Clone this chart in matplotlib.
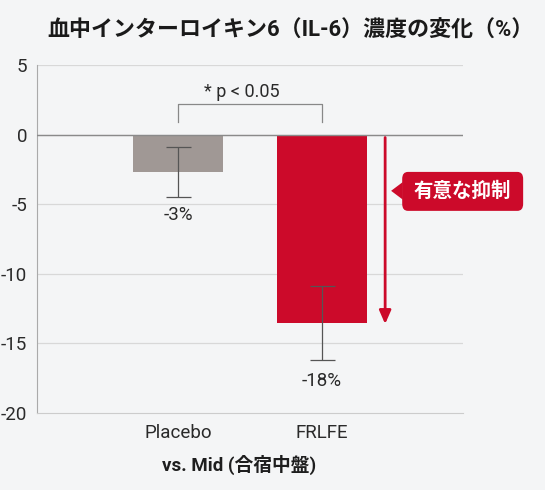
import matplotlib.pyplot as plt
from matplotlib.patches import FancyBboxPatch, Polygon

plt.rcParams['font.family'] = ['Roboto', 'Noto Sans CJK JP', 'DejaVu Sans']

# data
groups = ['Placebo', 'FRLFE']
values = [-2.7, -13.5]
err_low = [1.8, 2.7]
err_high = [1.8, 2.6]
labels = ['-3%', '-18%']
label_y = [-5.8, -17.7]
yticks = [5, 0, -5, -10, -15, -20]
title = '血中インターロイキン6（IL-6）濃度の変化（%）'
xlabel = 'vs. Mid (合宿中盤)'
sig_text = '* p < 0.05'
callout = '有意な抑制'

bg = '#f4f5f6'
red = '#cc0a2a'
gray = '#a09895'
txt = '#2a2a2a'

fig = plt.figure(figsize=(5.45, 4.9), dpi=100)
fig.patch.set_facecolor(bg)
ax = fig.add_axes([0.068, 0.157, 0.782, 0.710])
ax.set_facecolor(bg)

x = list(range(len(groups)))
ax.bar(x, values, width=0.625, color=[gray, red], zorder=2)
ax.errorbar(x, values, yerr=[err_low, err_high], fmt='none', ecolor='#555555',
            elinewidth=0.9, capsize=9, capthick=0.9, zorder=3)
for xi, lab, ly in zip(x, labels, label_y):
    ax.text(xi, ly, lab, ha='center', va='center', fontsize=13.5, color=txt)

ax.set_xlim(-0.98, 1.98)
ax.set_ylim(-20, 5)
ax.set_yticks(yticks)
ax.set_yticklabels([str(t) for t in yticks])
ax.set_xticks(x)
ax.set_xticklabels(groups)
ax.tick_params(axis='both', length=0, labelsize=13.5, labelcolor=txt)
ax.tick_params(axis='x', pad=8)
ax.tick_params(axis='y', pad=7)
for t in yticks[:-1]:
    ax.axhline(t, color='#d8d8d8', lw=0.9, zorder=1)
ax.axhline(0, color='#8a8a8a', lw=1.0, zorder=4)
for s in ['top', 'right']:
    ax.spines[s].set_visible(False)
ax.spines['left'].set_color('#aaaaaa')
ax.spines['bottom'].set_color('#cccccc')
ax.text(0.475, -0.15, xlabel, transform=ax.transAxes, ha='center', va='center',
        fontsize=13.5, fontweight='bold', color='#1e1e1e')

# significance bracket
ax.plot([0, 0, 1, 1], [0.9, 2.2, 2.2, 0.9], color='#888888', lw=0.9, zorder=3)
ax.text(0.44, 3.1, sig_text, ha='center', va='center', fontsize=13, color=txt)

# arrow
ax.annotate('', xy=(1.4375, -13.8), xytext=(1.4375, 0),
            arrowprops=dict(arrowstyle='-|>,head_length=0.8,head_width=0.35',
                            color=red, lw=2), zorder=5)

# callout
box = FancyBboxPatch((1.556, -5.47), 0.84, 2.8,
                     boxstyle='round,pad=0,rounding_size=0.04',
                     fc=red, ec='none', clip_on=False, zorder=5,
                     mutation_aspect=1 / 0.08)
ax.add_patch(box)
ax.add_patch(Polygon([[1.479, -4.03], [1.56, -3.4], [1.56, -4.66]],
                     closed=True, fc=red, ec='none', clip_on=False, zorder=5))
ax.text(1.976, -4.05, callout, ha='center', va='center', fontsize=14,
        fontweight='bold', color='white', zorder=6, clip_on=False)

fig.text(0.086, 0.938, title, ha='left', va='center', fontsize=15.8,
         fontweight='bold', color='#1a1a1a')

fig.savefig('out.png', dpi=100, facecolor=bg)
